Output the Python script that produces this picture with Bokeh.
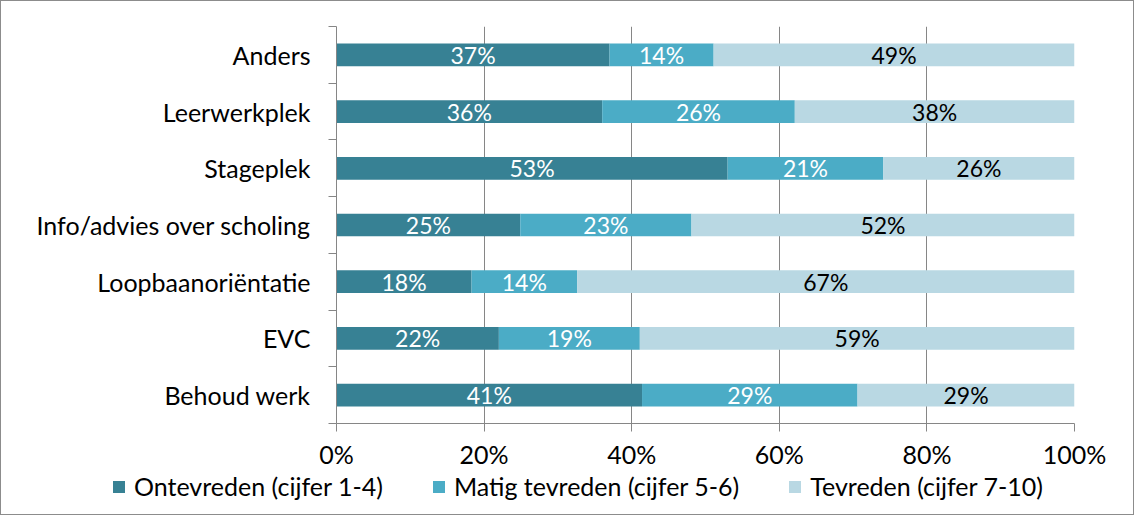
from bokeh.plotting import figure
from bokeh.layouts import column
from bokeh.models import Range1d, FixedTicker, Legend, LegendItem, ColumnDataSource, LabelSet
from bokeh.core.properties import value
from bokeh.embed import file_html
from bokeh.resources import INLINE

categories = ["Behoud werk", "EVC", "Loopbaanoriëntatie", "Info/advies over scholing",
              "Stageplek", "Leerwerkplek", "Anders"]
ontevreden = [41.4, 22.0, 18.3, 24.9, 53.0, 36.0, 37.0]
matig = [29.2, 19.1, 14.3, 23.2, 21.1, 26.1, 14.1]
tevreden = [29.4, 58.9, 67.4, 51.9, 25.9, 37.9, 48.9]
series_names = ["Ontevreden (cijfer 1-4)", "Matig tevreden (cijfer 5-6)", "Tevreden (cijfer 7-10)"]
colors = ["#378194", "#4BACC6", "#B9D8E3"]
label_colors = ["white", "white", "black"]
x_ticks = [0, 20, 40, 60, 80, 100]

FONT = "Lato"
FS = "25px"
FS_BAR = "23px"
BORDER = "1px solid #8c8c8c"

W = 1134
p = figure(width=W, height=470, output_backend="svg", toolbar_location=None,
           x_range=Range1d(0, 100), y_range=Range1d(0, len(categories)),
           min_border_left=335, min_border_right=61, min_border_top=25, min_border_bottom=46,
           styles={"border-left": BORDER, "border-right": BORDER, "border-top": BORDER})
p.outline_line_color = None
p.background_fill_color = "white"

ypos = [i + 0.5 for i in range(len(categories))]
series = [ontevreden, matig, tevreden]
src = ColumnDataSource(dict(y=ypos, s0=ontevreden, s1=matig, s2=tevreden))
renderers = p.hbar_stack(["s0", "s1", "s2"], y="y", height=0.4, source=src,
                         color=colors, line_color=None)

# segment labels
left = [0.0] * len(categories)
for k, vals in enumerate(series):
    centers = [l + v / 2 for l, v in zip(left, vals)]
    texts = [f"{round(v):.0f}%" for v in vals]
    ls = ColumnDataSource(dict(x=centers, y=ypos, t=texts))
    p.add_layout(LabelSet(x="x", y="y", text="t", source=ls, text_align="center",
                          text_baseline="middle", text_font=value(FONT), text_font_size=FS_BAR,
                          text_color=label_colors[k]))
    left = [l + v for l, v in zip(left, vals)]

# x axis
xa = p.xaxis[0]
xa.ticker = FixedTicker(ticks=x_ticks)
xa.major_label_overrides = {t: f"{t}%" for t in x_ticks}
xa.axis_line_color = "#868686"
xa.major_tick_line_color = "#868686"
xa.major_tick_out = 8
xa.major_tick_in = 0
xa.minor_tick_line_color = None
xa.major_label_standoff = 7
xa.major_label_text_font = FONT
xa.major_label_text_font_size = FS
xa.major_label_text_color = "black"

# y axis
ya = p.yaxis[0]
ya.ticker = FixedTicker(ticks=ypos, minor_ticks=list(range(len(categories) + 1)))
ya.major_label_overrides = {y: c for y, c in zip(ypos, categories)}
ya.axis_line_color = "#868686"
ya.major_tick_line_color = None
ya.minor_tick_line_color = "#868686"
ya.minor_tick_out = 8
ya.minor_tick_in = 0
ya.major_label_standoff = 18
ya.major_label_text_font = FONT
ya.major_label_text_font_size = FS
ya.major_label_text_color = "black"

p.xgrid.ticker = FixedTicker(ticks=x_ticks)
p.xgrid.grid_line_color = "#868686"
p.ygrid.grid_line_color = None

# legend in its own strip below the chart (hidden bars, used only for legend swatches)
lg = figure(width=W, height=45, output_backend="svg", toolbar_location=None,
            x_range=Range1d(0, 100), y_range=Range1d(-2, -1),
            min_border=0, min_border_left=0, min_border_right=0, min_border_top=0, min_border_bottom=0,
            styles={"border-left": BORDER, "border-right": BORDER, "border-bottom": BORDER})
lg.frame_align = False
lg.axis.visible = False
lg.grid.visible = False
lg.outline_line_color = None
lg_r = lg.hbar_stack(["s0", "s1", "s2"], y="y", height=0.4, source=src,
                     color=colors, line_color=None)
for r in lg_r:
    r.visible = False
legend = Legend(items=[LegendItem(label=n, renderers=[r]) for n, r in zip(series_names, lg_r)],
                orientation="horizontal", location=(110, 14),
                glyph_width=15, glyph_height=15, label_standoff=8, spacing=48,
                padding=0, margin=0, border_line_color=None, background_fill_alpha=0,
                label_text_font=FONT, label_text_font_size=FS, label_text_color="black")
lg.add_layout(legend, "center")

page = column(p, lg, spacing=0)

open("out.html", "w").write(file_html(page, INLINE))
